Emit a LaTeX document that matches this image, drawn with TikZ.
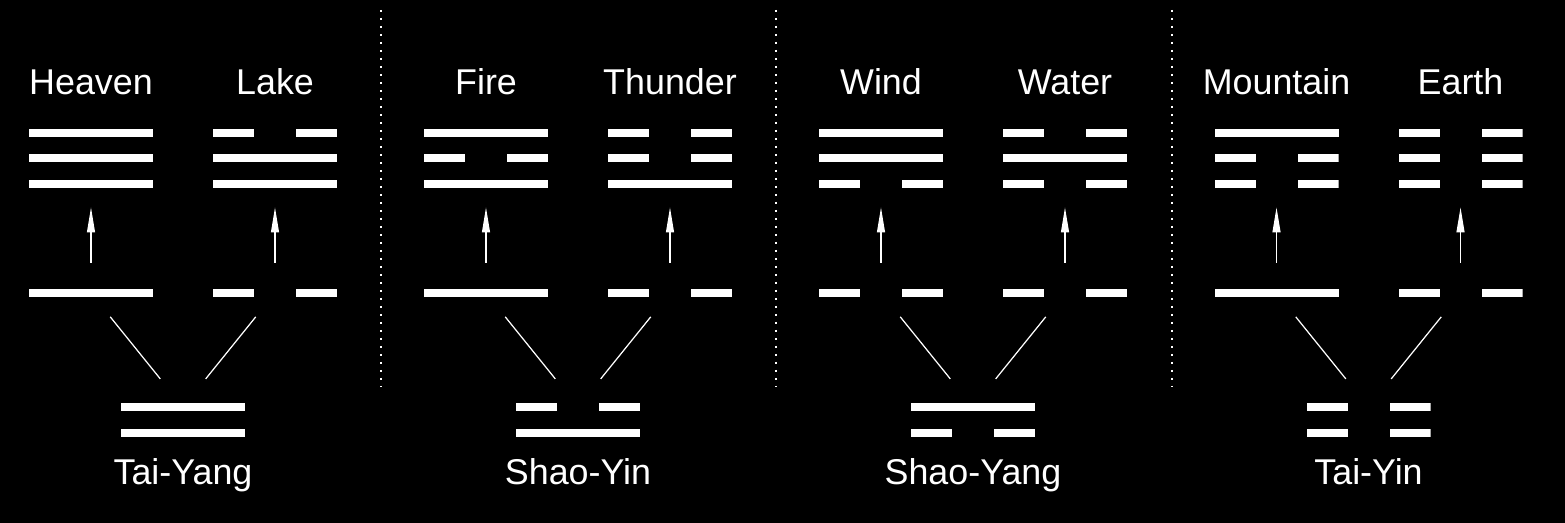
\documentclass[tikz,border=0pt]{standalone}
\usepackage{fontspec}
\setmainfont{Liberation Sans}
\usepackage{tikz}
\usetikzlibrary{arrows.meta, positioning, calc}
\tikzset{
    yang/.style={rectangle, fill=white, minimum width=2.48cm, minimum height=0.16cm, inner sep=0pt, outer sep=0pt},
    yin/.style={yang, fill=none, path picture={
        \fill[white] (path picture bounding box.south west) rectangle ++(0.82cm,0.16cm);
        \fill[white] (path picture bounding box.south east) rectangle ++(-0.82cm,0.16cm);}},
    caption/.style={text=white, font=\fontsize{20.4}{24}\selectfont, inner sep=0pt, text height=0.5cm, text depth=0pt},
    growth/.style={draw=white, line width=0.6pt, -{Triangle[length=0.5cm, width=0.16cm]}, shorten <=0.52cm, shorten >=0.39cm},
    fork/.style={draw=white, line width=0.7pt, shorten <=0.51cm, shorten >=0.62cm},
    divider/.style={draw=white, line width=0.04cm, dash pattern=on 0.04cm off 0.12cm}
}

\begin{document}
\begin{tikzpicture}[node distance=0.35cm]
    \fill[black] (0,0) rectangle (31.3,-10.46);

    % Tai-Yang
    \node[yang] (heaven1) at (1.82,-2.66) {};
    \node[yang, below=of heaven1] (heaven2) {};
    \node[yang, below=of heaven2] (heaven3) {};
    \node[yin, right=1.2cm of heaven1] (lake1) {};
    \node[yang, below=of lake1] (lake2) {};
    \node[yang, below=of lake2] (lake3) {};
    \node[caption, above=0.68cm of heaven1] (heavenlabel) {Heaven};
    \node[caption, above=0.68cm of lake1] (lakelabel) {Lake};
    \node[yang, below=2.02cm of heaven3] (heavenline) {};
    \node[yin, below=2.02cm of lake3] (lakeline) {};
    \node[yang, below=2.2cm of $(heavenline)!0.5!(lakeline)$] (taiyang1) {};
    \node[yang, below=of taiyang1] (taiyang2) {};
    \node[caption, below=0.45cm of taiyang2] (taiyanglabel) {Tai-Yang};

    \draw[growth] (heavenline) -- (heaven3);
    \draw[growth] (lakeline) -- (lake3);
    \draw[fork] (heavenline) -- (taiyang1);
    \draw[fork] (lakeline) -- (taiyang1);

    % Shao-Yin
    \node[yang, right=1.74cm of lake1] (fire1) {};
    \node[yin, below=of fire1] (fire2) {};
    \node[yang, below=of fire2] (fire3) {};
    \node[yin, right=1.2cm of fire1] (thunder1) {};
    \node[yin, below=of thunder1] (thunder2) {};
    \node[yang, below=of thunder2] (thunder3) {};
    \node[caption, above=0.68cm of fire1] (firelabel) {Fire};
    \node[caption, above=0.68cm of thunder1] (thunderlabel) {Thunder};
    \node[yang, below=2.02cm of fire3] (fireline) {};
    \node[yin, below=2.02cm of thunder3] (thunderline) {};
    \node[yin, below=2.2cm of $(fireline)!0.5!(thunderline)$] (shaoyin1) {};
    \node[yang, below=of shaoyin1] (shaoyin2) {};
    \node[caption, below=0.45cm of shaoyin2] (shaoyinlabel) {Shao-Yin};

    \draw[growth] (fireline) -- (fire3);
    \draw[growth] (thunderline) -- (thunder3);
    \draw[fork] (fireline) -- (shaoyin1);
    \draw[fork] (thunderline) -- (shaoyin1);

    % Shao-Yang
    \node[yang, right=1.74cm of thunder1] (wind1) {};
    \node[yang, below=of wind1] (wind2) {};
    \node[yin, below=of wind2] (wind3) {};
    \node[yin, right=1.2cm of wind1] (water1) {};
    \node[yang, below=of water1] (water2) {};
    \node[yin, below=of water2] (water3) {};
    \node[caption, above=0.68cm of wind1] (windlabel) {Wind};
    \node[caption, above=0.68cm of water1] (waterlabel) {Water};
    \node[yin, below=2.02cm of wind3] (windline) {};
    \node[yin, below=2.02cm of water3] (waterline) {};
    \node[yang, below=2.2cm of $(windline)!0.5!(waterline)$] (shaoyang1) {};
    \node[yin, below=of shaoyang1] (shaoyang2) {};
    \node[caption, below=0.45cm of shaoyang2] (shaoyanglabel) {Shao-Yang};

    \draw[growth] (windline) -- (wind3);
    \draw[growth] (waterline) -- (water3);
    \draw[fork] (windline) -- (shaoyang1);
    \draw[fork] (waterline) -- (shaoyang1);

    % Tai-Yin
    \node[yang, right=1.75cm of water1] (mountain1) {};
    \node[yin, below=of mountain1] (mountain2) {};
    \node[yin, below=of mountain2] (mountain3) {};
    \node[yin, right=1.2cm of mountain1] (earth1) {};
    \node[yin, below=of earth1] (earth2) {};
    \node[yin, below=of earth2] (earth3) {};
    \node[caption, above=0.68cm of mountain1] (mountainlabel) {Mountain};
    \node[caption, above=0.68cm of earth1] (earthlabel) {Earth};
    \node[yang, below=2.02cm of mountain3] (mountainline) {};
    \node[yin, below=2.02cm of earth3] (earthline) {};
    \node[yin, below=2.2cm of $(mountainline)!0.5!(earthline)$] (taiyin1) {};
    \node[yin, below=of taiyin1] (taiyin2) {};
    \node[caption, below=0.45cm of taiyin2] (taiyinlabel) {Tai-Yin};

    \draw[growth] (mountainline) -- (mountain3);
    \draw[growth] (earthline) -- (earth3);
    \draw[fork] (mountainline) -- (taiyin1);
    \draw[fork] (earthline) -- (taiyin1);

    % dotted separators
    \draw[divider] (7.62,-0.2) -- (7.62,-7.74);
    \draw[divider] (15.52,-0.2) -- (15.52,-7.74);
    \draw[divider] (23.44,-0.2) -- (23.44,-7.74);
\end{tikzpicture}
\end{document}
